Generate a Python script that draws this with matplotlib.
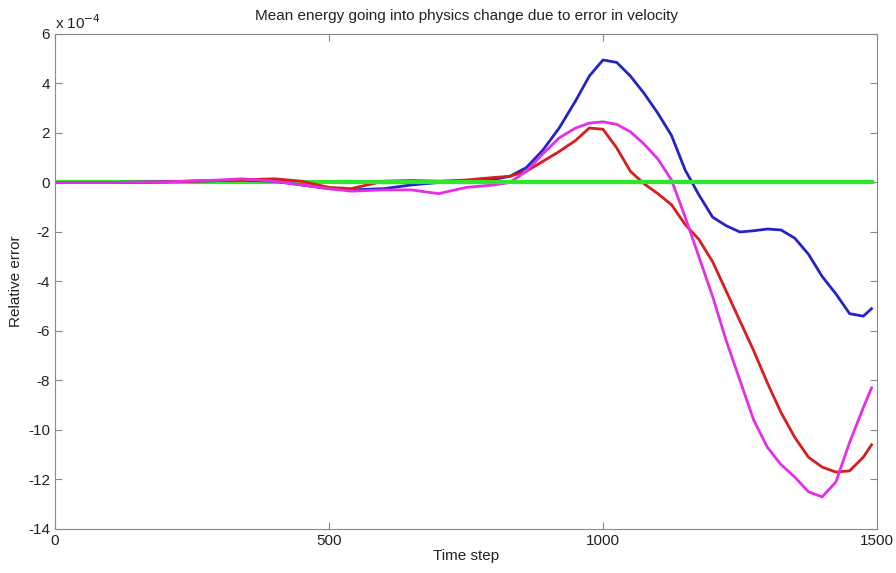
import matplotlib.pyplot as plt

plt.rcParams['axes.unicode_minus'] = False

# time steps shared by all series
steps = [0, 100, 200, 300, 340, 400, 450, 500, 540, 600, 650, 700, 750, 800,
         830, 860, 890, 920, 950, 975, 1000, 1025, 1050, 1075, 1100, 1125,
         1150, 1175, 1200, 1225, 1250, 1275, 1300, 1325, 1350, 1375, 1400,
         1425, 1450, 1475, 1490]

# relative error, in units of 1e-4
err_blue = [0, 0, 0.03, 0.08, 0.1, 0.05, -0.1, -0.25, -0.3, -0.25, -0.1, 0,
            0.05, 0.12, 0.25, 0.6, 1.3, 2.2, 3.3, 4.3, 4.95, 4.85, 4.3, 3.6,
            2.8, 1.9, 0.5, -0.5, -1.4, -1.75, -2.0, -1.95, -1.88, -1.92,
            -2.25, -2.9, -3.8, -4.5, -5.3, -5.4, -5.1]
err_red = [0, 0, 0.02, 0.08, 0.1, 0.15, 0.05, -0.2, -0.25, 0.05, 0.08, 0.05,
           0.1, 0.2, 0.25, 0.45, 0.85, 1.25, 1.7, 2.2, 2.15, 1.4, 0.45, -0.05,
           -0.45, -0.9, -1.7, -2.3, -3.2, -4.4, -5.6, -6.8, -8.1, -9.3, -10.3,
           -11.1, -11.5, -11.7, -11.65, -11.1, -10.6]
err_magenta = [0, 0, 0.02, 0.1, 0.15, 0.05, -0.1, -0.25, -0.35, -0.3, -0.3,
               -0.45, -0.2, -0.1, 0.0, 0.45, 1.15, 1.8, 2.2, 2.4, 2.45, 2.35,
               2.05, 1.55, 0.95, 0.1, -1.4, -3.0, -4.6, -6.4, -8.0, -9.6,
               -10.7, -11.4, -11.9, -12.5, -12.7, -12.1, -10.5, -9.1, -8.3]
err_green = [0] * len(steps)

fig = plt.figure(figsize=(8.96, 5.73), dpi=100)
ax = fig.add_axes([0.0614, 0.0768, 0.9174, 0.8639])

ax.plot(steps, err_green, color='#2ee62e', lw=3)
ax.plot(steps, err_blue, color='#2323c8', lw=2)
ax.plot(steps, err_red, color='#d91c1c', lw=2)
ax.plot(steps, err_magenta, color='#e62ee6', lw=2)
# green drawn again on top where the others sit on zero
ax.plot(steps[8:], err_green[8:], color='#2ee62e', lw=3)

ax.set_xlim(0, 1500)
ax.set_ylim(-14, 6)
ax.set_xticks([0, 500, 1000, 1500])
ax.set_yticks(range(-14, 7, 2))

font = 'Liberation Sans'
for s in ax.spines.values():
    s.set_color('#8a8a8a')
ax.tick_params(direction='in', length=5, color='#8a8a8a', labelcolor='#222222',
               labelsize=11, top=True, right=True)
for lbl in ax.get_xticklabels() + ax.get_yticklabels():
    lbl.set_family(font)

ax.set_title('Mean energy going into physics change due to error in velocity',
             fontsize=11, family=font, color='#222222', pad=10)
ax.set_xlabel('Time step', fontsize=11, family=font, color='#222222', labelpad=1)
ax.set_ylabel('Relative error', fontsize=11, family=font, color='#222222', labelpad=4)
ax.text(0.0, 1.005, r'x 10$^{-4}$', transform=ax.transAxes, fontsize=11,
        family=font, color='#222222', va='bottom', ha='left')

fig.savefig('out.png')
